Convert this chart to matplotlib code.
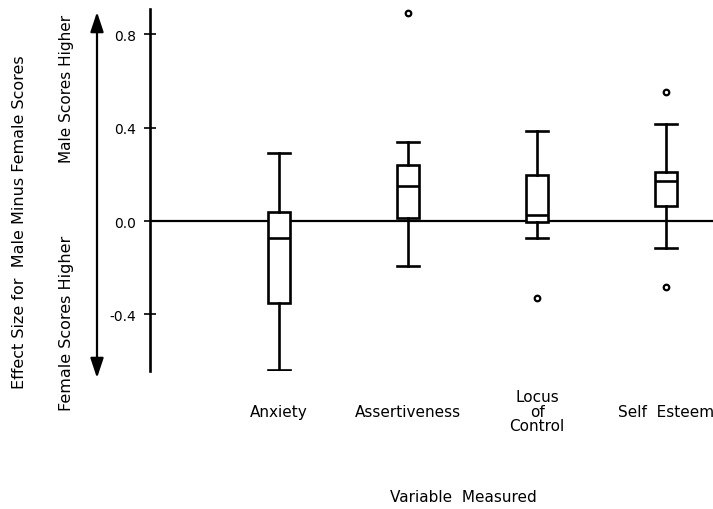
import matplotlib
matplotlib.use('Agg')
import matplotlib.pyplot as plt

plt.rcParams['font.family'] = ['DejaVu Sans']
plt.rcParams['axes.unicode_minus'] = False

# data
categories = ['Anxiety', 'Assertiveness', 'Locus\nof\nControl', 'Self  Esteem']
medians = [-0.073, 0.15, 0.026, 0.171]
q1 = [-0.351, 0.013, -0.004, 0.064]
q3 = [0.039, 0.24, 0.197, 0.21]
whis_lo = [-0.639, -0.193, -0.073, -0.116]
whis_hi = [0.291, 0.339, 0.386, 0.416]
outliers = [[], [0.891], [-0.33], [0.553, -0.283]]
yticks = [-0.4, 0.0, 0.4, 0.8]
ytick_labels = ['-0.4', '0.0', '0.4', '0.8']

stats = []
for i in range(len(categories)):
    stats.append(dict(med=medians[i], q1=q1[i], q3=q3[i],
                      whislo=whis_lo[i], whishi=whis_hi[i],
                      fliers=outliers[i], label=categories[i]))

W, H = 713, 510
fig = plt.figure(figsize=(W / 100, H / 100), dpi=100)
ax = fig.add_axes([150 / W, 1 - 372 / H, 1 - 150 / W, 362 / H])
ax.set_facecolor('none')

ax.axhline(0, color='black', lw=1.6, zorder=1)

lw = 1.9
ax.bxp(stats, positions=[1, 2, 3, 4], widths=0.17, capwidths=0.17,
       patch_artist=True, manage_ticks=False,
       boxprops=dict(facecolor='white', edgecolor='black', lw=lw),
       medianprops=dict(color='black', lw=lw),
       whiskerprops=dict(color='black', lw=lw),
       capprops=dict(color='black', lw=lw),
       flierprops=dict(marker='o', mfc='white', mec='black', ms=4, mew=1.6))

ax.set_xlim(0, 4.364)
ax.set_ylim(-0.643, 0.909)

for s in ['top', 'right', 'bottom']:
    ax.spines[s].set_visible(False)
ax.spines['left'].set_linewidth(1.9)

ax.set_yticks(yticks)
ax.set_yticklabels(ytick_labels)
ax.tick_params(axis='y', direction='inout', length=8, width=1.2,
               labelsize=10, pad=6)

ax.set_xticks([1, 2, 3, 4])
ax.set_xticklabels(categories, fontsize=11, linespacing=0.95)
ax.tick_params(axis='x', length=0, pad=29)
for lab in ax.get_xticklabels():
    lab.set_verticalalignment('center')

fig.text(463 / W, 1 - 498 / H, 'Variable  Measured', ha='center', va='center',
         fontsize=11)

fig.text(20 / W, 1 - 222 / H, 'Effect Size for  Male Minus Female Scores',
         rotation=90, ha='center', va='center', fontsize=11.5)
fig.text(67 / W, 1 - 89 / H, 'Male Scores Higher',
         rotation=90, ha='center', va='center', fontsize=11)
fig.text(67 / W, 1 - 323 / H, 'Female Scores Higher',
         rotation=90, ha='center', va='center', fontsize=11.5)

ax.annotate('', xy=(97 / W, 1 - 13 / H), xytext=(97 / W, 1 - 379 / H),
            xycoords='figure fraction', textcoords='figure fraction',
            arrowprops=dict(arrowstyle='<|-|>,head_length=1.2,head_width=0.4',
                            lw=1.6, color='black', shrinkA=0, shrinkB=0,
                            mutation_scale=10))

fig.savefig('out.png', dpi=100)
